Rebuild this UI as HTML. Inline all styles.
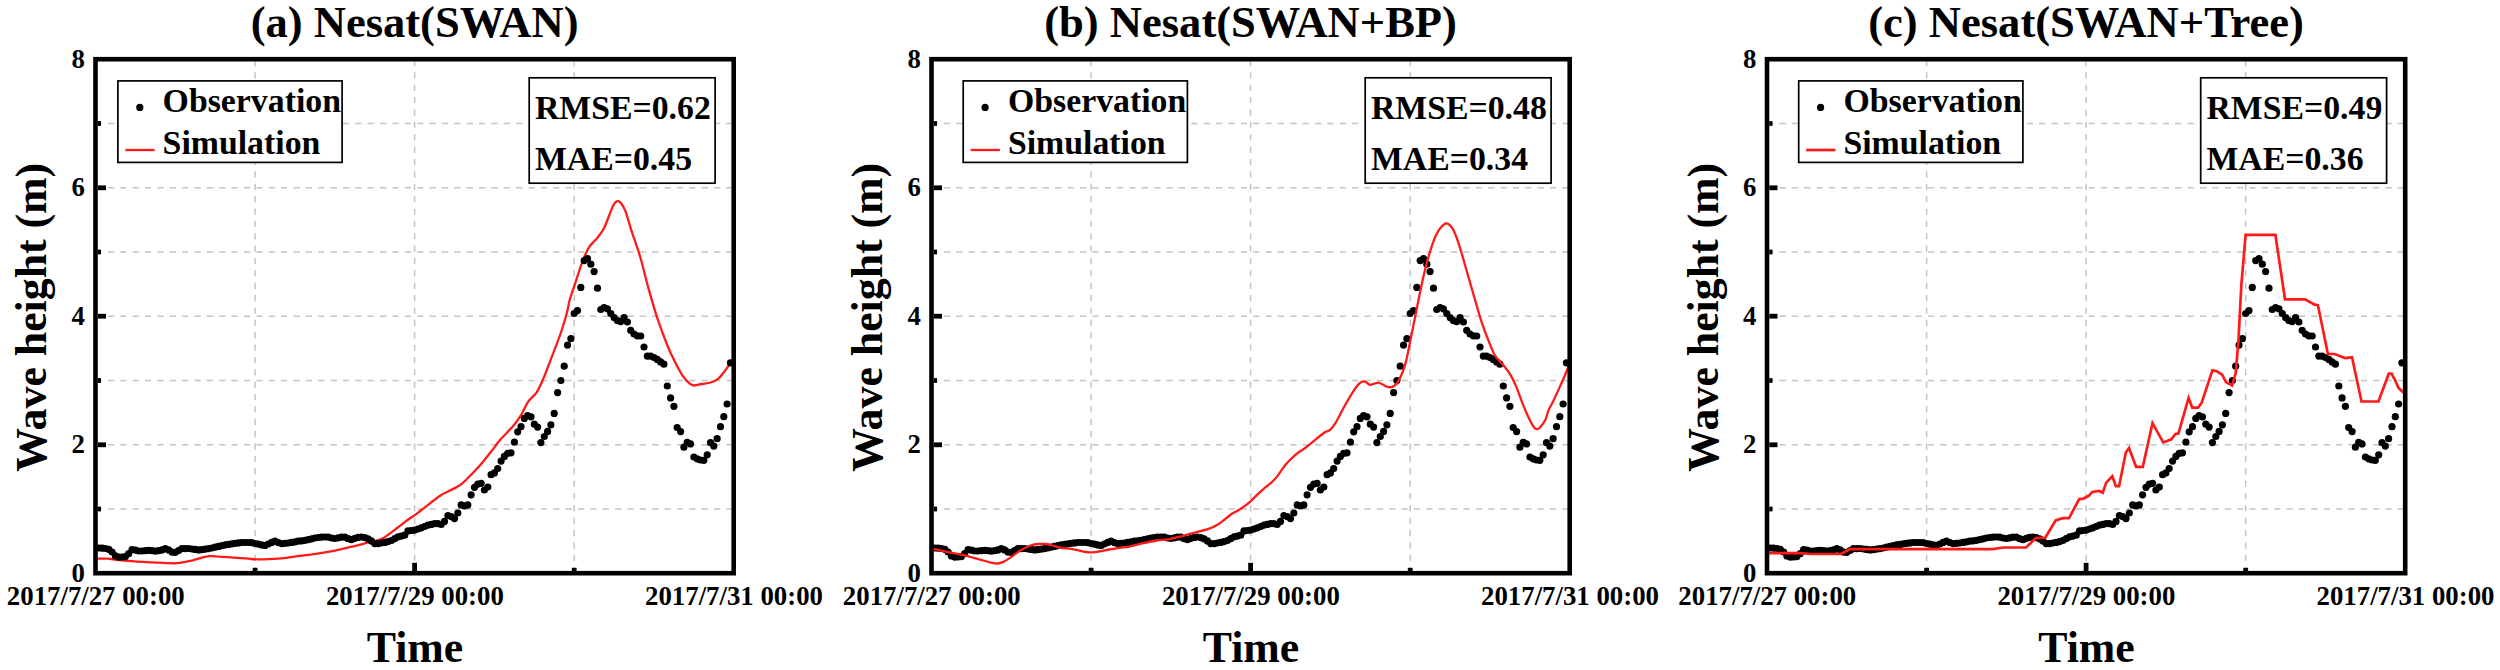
<!DOCTYPE html>
<html lang="en">
<head>
<meta charset="utf-8">
<title>Nesat wave height comparison</title>
<style>
html,body{margin:0;padding:0;background:#fff;}
body{width:2500px;height:670px;overflow:hidden;}
svg{display:block;}
text{font-family:"Liberation Serif",serif;font-weight:bold;fill:#000;}
.title{font-size:44.55px;text-anchor:middle;}
.axl{font-size:43.8px;text-anchor:middle;}
.tk{font-size:26.8px;}
.lg{font-size:33.8px;}
.st{font-size:33.75px;}
.grid line{stroke:#c4c4c4;stroke-width:1.5;stroke-dasharray:6.25 6.12;}
.ticks line{stroke:#000;stroke-width:4.8;}
.frame{fill:none;stroke:#000;stroke-width:4.6;}
.box{fill:#fff;stroke:#000;stroke-width:1.7;}
.sim{fill:none;stroke:#ff1a1a;stroke-width:2;stroke-linejoin:round;}
.obs circle{fill:#000;}
</style>
</head>
<body>
<svg width="2500" height="670" viewBox="0 0 2500 670">
<rect x="0" y="0" width="2500" height="670" fill="#ffffff"/>
<defs>
<clipPath id="plotclip"><rect x="95.5" y="59.2" width="638.2" height="514"/></clipPath>

<g id="grid" class="grid">
<line x1="255.1" y1="60" x2="255.1" y2="573.2"/>
<line x1="414.6" y1="60" x2="414.6" y2="573.2"/>
<line x1="574.2" y1="60" x2="574.2" y2="573.2"/>
<line x1="95.5" y1="509" x2="733.8" y2="509"/>
<line x1="95.5" y1="444.8" x2="733.8" y2="444.8"/>
<line x1="95.5" y1="380.5" x2="733.8" y2="380.5"/>
<line x1="95.5" y1="316.2" x2="733.8" y2="316.2"/>
<line x1="95.5" y1="252" x2="733.8" y2="252"/>
<line x1="95.5" y1="187.8" x2="733.8" y2="187.8"/>
<line x1="95.5" y1="123.5" x2="733.8" y2="123.5"/>
</g>
<g id="ticks" class="ticks">
<line x1="255.1" y1="571" x2="255.1" y2="567.8"/>
<line x1="414.6" y1="571" x2="414.6" y2="562.8"/>
<line x1="574.2" y1="571" x2="574.2" y2="567.8"/>
<line x1="97.8" y1="509" x2="101" y2="509"/>
<line x1="97.8" y1="444.8" x2="106" y2="444.8"/>
<line x1="97.8" y1="380.5" x2="101" y2="380.5"/>
<line x1="97.8" y1="316.2" x2="106" y2="316.2"/>
<line x1="97.8" y1="252" x2="101" y2="252"/>
<line x1="97.8" y1="187.8" x2="106" y2="187.8"/>
<line x1="97.8" y1="123.5" x2="101" y2="123.5"/>
</g>
<g id="obs" class="obs" clip-path="url(#plotclip)">
<circle cx="95.5" cy="547.9" r="3.6"/>
<circle cx="98.8" cy="548" r="3.6"/>
<circle cx="102.1" cy="548.2" r="3.6"/>
<circle cx="105.5" cy="548.5" r="3.6"/>
<circle cx="108.8" cy="549.3" r="3.6"/>
<circle cx="112.1" cy="552" r="3.6"/>
<circle cx="115.4" cy="555.9" r="3.6"/>
<circle cx="118.8" cy="557.1" r="3.6"/>
<circle cx="122.1" cy="557" r="3.6"/>
<circle cx="125.4" cy="556.6" r="3.6"/>
<circle cx="128.7" cy="553.7" r="3.6"/>
<circle cx="132.1" cy="549.6" r="3.6"/>
<circle cx="135.4" cy="550.1" r="3.6"/>
<circle cx="138.7" cy="551" r="3.6"/>
<circle cx="142" cy="551" r="3.6"/>
<circle cx="145.4" cy="550.6" r="3.6"/>
<circle cx="148.7" cy="550.3" r="3.6"/>
<circle cx="152" cy="550.7" r="3.6"/>
<circle cx="155.3" cy="551.2" r="3.6"/>
<circle cx="158.7" cy="550.7" r="3.6"/>
<circle cx="162" cy="549.9" r="3.6"/>
<circle cx="165.3" cy="548.6" r="3.6"/>
<circle cx="168.6" cy="549.9" r="3.6"/>
<circle cx="172" cy="552.1" r="3.6"/>
<circle cx="175.3" cy="552.3" r="3.6"/>
<circle cx="178.6" cy="550.5" r="3.6"/>
<circle cx="181.9" cy="548.7" r="3.6"/>
<circle cx="185.3" cy="548.6" r="3.6"/>
<circle cx="188.6" cy="548.5" r="3.6"/>
<circle cx="191.9" cy="549" r="3.6"/>
<circle cx="195.2" cy="549.4" r="3.6"/>
<circle cx="198.6" cy="549.9" r="3.6"/>
<circle cx="201.9" cy="549.6" r="3.6"/>
<circle cx="205.2" cy="549.1" r="3.6"/>
<circle cx="208.5" cy="548.6" r="3.6"/>
<circle cx="211.8" cy="548" r="3.6"/>
<circle cx="215.2" cy="547.2" r="3.6"/>
<circle cx="218.5" cy="546.4" r="3.6"/>
<circle cx="221.8" cy="545.7" r="3.6"/>
<circle cx="225.1" cy="544.9" r="3.6"/>
<circle cx="228.5" cy="544.4" r="3.6"/>
<circle cx="231.8" cy="543.8" r="3.6"/>
<circle cx="235.1" cy="543.3" r="3.6"/>
<circle cx="238.4" cy="542.9" r="3.6"/>
<circle cx="241.8" cy="542.5" r="3.6"/>
<circle cx="245.1" cy="542.5" r="3.6"/>
<circle cx="248.4" cy="542.5" r="3.6"/>
<circle cx="251.7" cy="542.7" r="3.6"/>
<circle cx="255.1" cy="543.5" r="3.6"/>
<circle cx="258.4" cy="544.2" r="3.6"/>
<circle cx="261.7" cy="544.9" r="3.6"/>
<circle cx="265" cy="545.4" r="3.6"/>
<circle cx="268.4" cy="544" r="3.6"/>
<circle cx="271.7" cy="542.4" r="3.6"/>
<circle cx="275" cy="541.2" r="3.6"/>
<circle cx="278.3" cy="542.6" r="3.6"/>
<circle cx="281.7" cy="543.6" r="3.6"/>
<circle cx="285" cy="543.3" r="3.6"/>
<circle cx="288.3" cy="543" r="3.6"/>
<circle cx="291.6" cy="542.4" r="3.6"/>
<circle cx="295" cy="541.8" r="3.6"/>
<circle cx="298.3" cy="541.2" r="3.6"/>
<circle cx="301.6" cy="540.8" r="3.6"/>
<circle cx="304.9" cy="540.3" r="3.6"/>
<circle cx="308.2" cy="539.7" r="3.6"/>
<circle cx="311.6" cy="538.8" r="3.6"/>
<circle cx="314.9" cy="538" r="3.6"/>
<circle cx="318.2" cy="537.5" r="3.6"/>
<circle cx="321.5" cy="537.1" r="3.6"/>
<circle cx="324.9" cy="537" r="3.6"/>
<circle cx="328.2" cy="537.1" r="3.6"/>
<circle cx="331.5" cy="538" r="3.6"/>
<circle cx="334.8" cy="538.5" r="3.6"/>
<circle cx="338.2" cy="537.8" r="3.6"/>
<circle cx="341.5" cy="537.1" r="3.6"/>
<circle cx="344.8" cy="537.2" r="3.6"/>
<circle cx="348.1" cy="538.7" r="3.6"/>
<circle cx="351.5" cy="539.7" r="3.6"/>
<circle cx="354.8" cy="538.3" r="3.6"/>
<circle cx="358.1" cy="537.4" r="3.6"/>
<circle cx="361.4" cy="537" r="3.6"/>
<circle cx="364.8" cy="537.6" r="3.6"/>
<circle cx="368.1" cy="538.8" r="3.6"/>
<circle cx="371.4" cy="540.9" r="3.6"/>
<circle cx="374.7" cy="543.6" r="3.6"/>
<circle cx="378.1" cy="543.6" r="3.6"/>
<circle cx="381.4" cy="543" r="3.6"/>
<circle cx="384.7" cy="542.4" r="3.6"/>
<circle cx="388" cy="541.6" r="3.6"/>
<circle cx="391.4" cy="540.5" r="3.6"/>
<circle cx="394.7" cy="538.7" r="3.6"/>
<circle cx="398" cy="536.8" r="3.6"/>
<circle cx="401.3" cy="536.1" r="3.6"/>
<circle cx="404.7" cy="535.2" r="3.6"/>
<circle cx="408" cy="530.9" r="3.6"/>
<circle cx="411.3" cy="530.5" r="3.6"/>
<circle cx="414.6" cy="530.1" r="3.6"/>
<circle cx="417.9" cy="529" r="3.6"/>
<circle cx="421.3" cy="527.8" r="3.6"/>
<circle cx="424.6" cy="526.5" r="3.6"/>
<circle cx="427.9" cy="525.2" r="3.6"/>
<circle cx="431.2" cy="524.4" r="3.6"/>
<circle cx="434.6" cy="523.6" r="3.6"/>
<circle cx="437.9" cy="523.6" r="3.6"/>
<circle cx="441.2" cy="524.5" r="3.6"/>
<circle cx="444.5" cy="521.4" r="3.6"/>
<circle cx="447.9" cy="515.5" r="3.6"/>
<circle cx="451.2" cy="516.6" r="3.6"/>
<circle cx="454.5" cy="518.6" r="3.6"/>
<circle cx="457.8" cy="513" r="3.6"/>
<circle cx="461.2" cy="504.9" r="3.6"/>
<circle cx="464.5" cy="505.9" r="3.6"/>
<circle cx="467.8" cy="504.9" r="3.6"/>
<circle cx="471.1" cy="494.8" r="3.6"/>
<circle cx="474.5" cy="487.3" r="3.6"/>
<circle cx="477.8" cy="484.1" r="3.6"/>
<circle cx="481.1" cy="483.3" r="3.6"/>
<circle cx="484.4" cy="490" r="3.6"/>
<circle cx="487.8" cy="487" r="3.6"/>
<circle cx="491.1" cy="474.7" r="3.6"/>
<circle cx="494.4" cy="472.9" r="3.6"/>
<circle cx="497.7" cy="468.5" r="3.6"/>
<circle cx="501.1" cy="461.1" r="3.6"/>
<circle cx="504.4" cy="456.4" r="3.6"/>
<circle cx="507.7" cy="453.3" r="3.6"/>
<circle cx="511" cy="452.8" r="3.6"/>
<circle cx="514.4" cy="442.2" r="3.6"/>
<circle cx="517.7" cy="431.8" r="3.6"/>
<circle cx="521" cy="426.7" r="3.6"/>
<circle cx="524.3" cy="418.4" r="3.6"/>
<circle cx="527.6" cy="415.7" r="3.6"/>
<circle cx="531" cy="416.8" r="3.6"/>
<circle cx="534.3" cy="424.2" r="3.6"/>
<circle cx="537.6" cy="427.1" r="3.6"/>
<circle cx="540.9" cy="442.6" r="3.6"/>
<circle cx="544.3" cy="436.5" r="3.6"/>
<circle cx="547.6" cy="431.4" r="3.6"/>
<circle cx="550.9" cy="424.8" r="3.6"/>
<circle cx="554.2" cy="413.4" r="3.6"/>
<circle cx="557.6" cy="392.6" r="3.6"/>
<circle cx="560.9" cy="380.5" r="3.6"/>
<circle cx="564.2" cy="366.2" r="3.6"/>
<circle cx="567.5" cy="345.1" r="3.6"/>
<circle cx="570.9" cy="338.7" r="3.6"/>
<circle cx="574.2" cy="313.5" r="3.6"/>
<circle cx="577.5" cy="310.6" r="3.6"/>
<circle cx="580.8" cy="287.4" r="3.6"/>
<circle cx="584.2" cy="260.6" r="3.6"/>
<circle cx="587.5" cy="258.6" r="3.6"/>
<circle cx="590.8" cy="264.2" r="3.6"/>
<circle cx="594.1" cy="271.6" r="3.6"/>
<circle cx="597.5" cy="288.2" r="3.6"/>
<circle cx="600.8" cy="309.5" r="3.6"/>
<circle cx="604.1" cy="307.5" r="3.6"/>
<circle cx="607.4" cy="308.8" r="3.6"/>
<circle cx="610.8" cy="313.5" r="3.6"/>
<circle cx="614.1" cy="317.6" r="3.6"/>
<circle cx="617.4" cy="320.6" r="3.6"/>
<circle cx="620.7" cy="321.6" r="3.6"/>
<circle cx="624.1" cy="317.6" r="3.6"/>
<circle cx="627.4" cy="322" r="3.6"/>
<circle cx="630.7" cy="330.3" r="3.6"/>
<circle cx="634" cy="334" r="3.6"/>
<circle cx="637.3" cy="335.8" r="3.6"/>
<circle cx="640.7" cy="336" r="3.6"/>
<circle cx="644" cy="347" r="3.6"/>
<circle cx="647.3" cy="356.1" r="3.6"/>
<circle cx="650.6" cy="356.1" r="3.6"/>
<circle cx="654" cy="357.5" r="3.6"/>
<circle cx="657.3" cy="359.4" r="3.6"/>
<circle cx="660.6" cy="361.9" r="3.6"/>
<circle cx="663.9" cy="364.2" r="3.6"/>
<circle cx="667.3" cy="386" r="3.6"/>
<circle cx="670.6" cy="397.9" r="3.6"/>
<circle cx="673.9" cy="406.3" r="3.6"/>
<circle cx="677.2" cy="427.5" r="3.6"/>
<circle cx="680.6" cy="431.6" r="3.6"/>
<circle cx="683.9" cy="447.2" r="3.6"/>
<circle cx="687.2" cy="442.4" r="3.6"/>
<circle cx="690.5" cy="443.9" r="3.6"/>
<circle cx="693.9" cy="457" r="3.6"/>
<circle cx="697.2" cy="458.8" r="3.6"/>
<circle cx="700.5" cy="460" r="3.6"/>
<circle cx="703.8" cy="460.3" r="3.6"/>
<circle cx="707.2" cy="454.8" r="3.6"/>
<circle cx="710.5" cy="442.7" r="3.6"/>
<circle cx="713.8" cy="446.1" r="3.6"/>
<circle cx="717.1" cy="438.7" r="3.6"/>
<circle cx="720.5" cy="426.7" r="3.6"/>
<circle cx="723.8" cy="416.7" r="3.6"/>
<circle cx="727.1" cy="404" r="3.6"/>
<circle cx="730.4" cy="362.8" r="3.6"/>
</g>
</defs>
<g transform="translate(0 0)">
<text class="title" x="414.6" y="37.3">(a) Nesat(SWAN)</text>
<use href="#grid"/>
<use href="#ticks"/>
<path class="sim" style="stroke-width:2.3;stroke-linejoin:round" clip-path="url(#plotclip)" d="M95.5 558.7C95.9 558.7 95.9 558.7 98 558.7C100.1 558.7 104.8 558.5 107.9 558.7C111.1 558.9 112.4 559.5 116.9 559.9C121.4 560.3 128.8 561 134.8 561.4C140.8 561.8 146.7 562 152.7 562.3C158.7 562.6 166.7 563.1 170.6 563.2C174.5 563.4 173.8 563.4 176 563.2C178.2 563 181.2 562.6 184 562.1C186.8 561.6 190 561 193 560.3C196 559.5 199.3 558.3 202 557.6C204.7 556.9 206.9 556.3 209.1 556.1C211.3 555.9 211.4 556 215.4 556.3C219.4 556.5 227.3 557.1 233.3 557.6C239.3 558.1 246.4 558.7 251.2 559C256 559.3 257.5 559.4 262 559.4C266.5 559.4 273.5 559 278 558.7C282.5 558.4 285.7 557.8 289 557.4C292.3 557 293.4 556.7 297.9 556.1C302.4 555.5 309.8 554.8 315.8 553.9C321.8 553 327.7 552 333.7 550.8C339.7 549.6 345.6 548.1 351.6 546.7C357.6 545.3 365.1 543.3 369.6 542.2C374.1 541.1 376.1 540.7 378.5 540C380.9 539.3 381.6 539.1 383.9 537.8C386.1 536.4 388.4 534.6 392 531.9C395.6 529.2 401.7 524.4 405.4 521.6C409.1 518.9 411.7 517.3 414.4 515.4C417.1 513.5 417.2 513.3 421.5 510C425.8 506.7 435.4 499 440 495.8C444.6 492.6 446 492.6 449.4 490.8C452.8 489 457.3 487 460.2 485C463.1 483 463.5 482.4 466.9 479C470.2 475.6 475.8 470 480.3 464.9C484.8 459.8 490.5 452.3 493.8 448.1C497.1 443.9 496.7 443.6 500 439.9C503.3 436.2 509.8 430.1 513.4 425.8C517 421.6 519 418.4 521.5 414.4C524 410.4 525.7 405.2 528.2 401.6C530.7 398 533.9 396.3 536.3 392.8C538.7 389.3 540.5 385 542.5 380.6C544.5 376.2 545.1 374.5 548.1 366.6C551.1 358.7 557.7 342 560.8 333C563.9 324 565.4 318.3 566.9 312.8C568.4 307.3 568.4 304.6 569.7 300C571 295.4 572.4 291.8 574.6 285.2C576.8 278.6 580.3 267 582.8 260.6C585.3 254.2 586.9 250.5 589.4 246.7C591.9 242.9 595.1 240.8 597.6 237.6C600.1 234.4 601.6 233.1 604.2 227.8C606.8 222.5 611 210 613.2 205.6C615.4 201.2 616 201.6 617.3 201.2C618.6 200.8 619.5 201.4 620.9 203.1C622.3 204.8 623.6 206.4 625.5 211.3C627.4 216.2 629.6 225 632.1 232.7C634.6 240.4 637.6 248 640.3 257.3C643 266.6 645.7 278.6 648.5 288.5C651.3 298.4 653.8 307.4 656.9 316.9C660 326.3 664.3 337.8 667.3 345.2C670.3 352.6 672.3 356.6 674.8 361.6C677.3 366.6 679.7 371.4 682.2 375.1C684.7 378.8 687.7 382 689.7 383.7C691.7 385.4 692.2 385.4 694.2 385.5C696.2 385.6 698.9 384.5 701.6 384C704.3 383.5 707.9 383.4 710.6 382.5C713.4 381.6 715.9 380.5 718.1 378.8C720.3 377.1 722.1 374.5 724 372.1C725.9 369.7 727.7 366.9 729.3 364.6C730.9 362.3 733 359.5 733.8 358.5"/>
<use href="#obs"/>
<rect class="frame" x="95.5" y="59.2" width="638.2" height="514"/>
<rect class="box" x="117.9" y="80.9" width="224.2" height="81.5"/>
<circle cx="139.8" cy="107.4" r="3.6" fill="#000"/>
<line x1="125.4" y1="150" x2="154.6" y2="150" stroke="#ff1a1a" stroke-width="2.3"/>
<text class="lg" x="162.6" y="111.6">Observation</text>
<text class="lg" x="162.6" y="154">Simulation</text>
<rect class="box" x="529.2" y="77.8" width="185.9" height="105.4"/>
<text class="st" x="535" y="119.1">RMSE=0.62</text>
<text class="st" x="535" y="170.1">MAE=0.45</text>
<text class="tk" text-anchor="end" x="85" y="582">0</text>
<text class="tk" text-anchor="end" x="85" y="453.4">2</text>
<text class="tk" text-anchor="end" x="85" y="324.9">4</text>
<text class="tk" text-anchor="end" x="85" y="196.4">6</text>
<text class="tk" text-anchor="end" x="85" y="68">8</text>
<text class="tk" text-anchor="middle" x="95.8" y="605.2">2017/7/27 00:00</text>
<text class="tk" text-anchor="middle" x="414.9" y="605.2">2017/7/29 00:00</text>
<text class="tk" text-anchor="middle" x="734" y="605.2">2017/7/31 00:00</text>
<text class="axl" x="415" y="661.5">Time</text>
<text class="axl" transform="translate(46.2 317.3) rotate(-90)" x="0" y="0">Wave height (m)</text>
</g>
<g transform="translate(836 0)">
<text class="title" x="414.6" y="37.3">(b) Nesat(SWAN+BP)</text>
<use href="#grid"/>
<use href="#ticks"/>
<use href="#obs"/>
<path class="sim" style="stroke-width:2.3;stroke-linejoin:round" clip-path="url(#plotclip)" d="M95.5 548.7C96 548.8 95.8 548.7 98.4 549.2C101 549.7 106.2 550.8 110.9 551.8C115.6 552.8 121.4 553.7 126.6 554.9C131.8 556.1 137.5 557.8 142.2 559.1C146.9 560.4 151.6 561.9 154.8 562.6C158 563.3 159.5 563.6 161.6 563.5C163.7 563.4 165.3 562.8 167.3 561.9C169.3 561 170.8 560 173.6 558.1C176.4 556.2 180.5 552.9 184 550.8C187.5 548.7 191.3 546.6 194.5 545.5C197.7 544.4 200.3 544.2 202.9 544C205.5 543.8 207.6 543.6 210.2 544C212.8 544.4 215.9 545.4 218.5 546.1C221.1 546.8 223.4 547.7 225.8 548.1C228.2 548.5 230.6 548.4 233.2 548.7C235.8 549.1 238.7 549.7 241.5 550.2C244.3 550.8 247.6 551.6 249.9 552C252.2 552.4 253 552.4 255.1 552.3C257.2 552.2 259.4 552.1 262.4 551.6C265.4 551.1 269.4 550.1 272.9 549.5C276.4 548.9 279.9 548.3 283.3 547.8C286.7 547.3 289.5 547.4 293.4 546.6C297.3 545.8 302.4 544.2 306.9 543.2C311.4 542.2 315.8 541.2 320.3 540.5C324.8 539.8 329.2 540 333.7 539.2C338.2 538.4 342.7 537 347.2 535.8C351.7 534.6 356.1 533.3 360.6 532.1C365.1 530.9 370.4 529.7 374 528.4C377.6 527.1 379.9 525.7 382.1 524.4C384.4 523.1 385.5 522 387.5 520.4C389.5 518.8 392 516.6 394.2 515C396.4 513.4 398.7 512.4 400.9 511C403.1 509.6 405.4 508.5 407.6 506.9C409.8 505.3 412.1 503.6 414.3 501.6C416.5 499.6 418.8 496.9 421 494.8C423.2 492.7 425.4 490.7 427.7 488.8C429.9 486.9 432.2 485.5 434.5 483.4C436.8 481.3 438.7 479.5 441.2 476.4C443.7 473.2 446.7 468.1 449.7 464.5C452.7 460.9 456.2 457.6 459.4 454.8C462.6 452.1 465.9 450.4 469.1 448C472.3 445.6 475.6 442.8 478.8 440.2C482 437.6 485.9 434.3 488.5 432.5C491.1 430.7 492.4 431.4 494.3 429.6C496.2 427.8 497.9 425.5 500.2 421.8C502.5 418.1 505 412.4 507.9 407.2C510.8 402 515 394.8 517.6 390.8C520.2 386.8 521.8 385 523.4 383.4C525 381.8 526 381.5 527.3 381.4C528.6 381.3 530.1 382.4 531.2 383C532.3 383.6 532.8 384.8 534.1 384.9C535.4 385 537.5 383.8 539 383.4C540.5 383 541.6 382.4 542.9 382.6C544.2 382.8 545.2 383.8 546.7 384.5C548.2 385.2 550 386.5 551.6 386.9C553.2 387.3 554.8 387.5 556.4 386.9C558 386.2 559.7 385.3 561.3 383C562.9 380.7 564.6 376.9 566.1 373.3C567.6 369.7 568.6 367 570 361.6C571.4 356.2 572.8 348.2 574.3 340.8C575.8 333.4 577.5 324.9 579.1 317C580.7 309.1 582.3 300.7 583.9 293.1C585.5 285.5 587 278.2 588.6 271.6C590.2 265 591.8 259.1 593.4 253.7C595 248.3 596.6 243.4 598.2 239.4C599.8 235.4 601.4 232.3 603 229.8C604.6 227.3 606.4 225.7 607.7 224.6C609 223.5 609.6 223.3 610.6 223.4C611.6 223.5 612.6 224 613.7 225.1C614.8 226.2 615.9 227 617.3 229.8C618.7 232.6 620.5 237.2 622.1 241.8C623.7 246.4 625.2 251.9 626.8 257.3C628.4 262.7 630 268.4 631.6 274C633.2 279.6 634.8 285.1 636.4 290.7C638 296.3 639.6 302 641.2 307.4C642.8 312.8 644.3 318.1 645.9 322.9C647.5 327.7 649.1 331.9 650.7 336.1C652.3 340.3 654.1 344.7 655.5 348C656.9 351.3 657.3 353.2 659.3 356.1C661.3 359 665.2 362.5 667.6 365.5C670 368.5 671.8 370.4 673.9 373.9C676 377.4 678 381.5 680.1 386.4C682.2 391.3 684.3 397.9 686.4 403.1C688.5 408.3 690.8 413.8 692.7 417.8C694.6 421.8 696.5 425.3 697.9 427.2C699.3 429.1 700 429.2 701 429.2C702 429.2 702.8 428.8 704.2 427.2C705.6 425.6 708 422.6 709.4 419.8C710.8 417 711.1 413.7 712.5 410.4C713.9 407.1 715.9 404 717.8 400C719.7 396 722.3 390.2 724 386.4C725.7 382.6 726.6 380.8 728.2 377C729.8 373.2 732.8 365.8 733.8 363.5"/>
<rect class="frame" x="95.5" y="59.2" width="638.2" height="514"/>
<rect class="box" x="127.2" y="80.9" width="224.2" height="81.5"/>
<circle cx="149.1" cy="107.4" r="3.6" fill="#000"/>
<line x1="134.7" y1="150" x2="163.9" y2="150" stroke="#ff1a1a" stroke-width="2.3"/>
<text class="lg" x="171.9" y="111.6">Observation</text>
<text class="lg" x="171.9" y="154">Simulation</text>
<rect class="box" x="529.2" y="77.8" width="185.9" height="105.4"/>
<text class="st" x="535" y="119.1">RMSE=0.48</text>
<text class="st" x="535" y="170.1">MAE=0.34</text>
<text class="tk" text-anchor="end" x="85" y="582">0</text>
<text class="tk" text-anchor="end" x="85" y="453.4">2</text>
<text class="tk" text-anchor="end" x="85" y="324.9">4</text>
<text class="tk" text-anchor="end" x="85" y="196.4">6</text>
<text class="tk" text-anchor="end" x="85" y="68">8</text>
<text class="tk" text-anchor="middle" x="95.8" y="605.2">2017/7/27 00:00</text>
<text class="tk" text-anchor="middle" x="414.9" y="605.2">2017/7/29 00:00</text>
<text class="tk" text-anchor="middle" x="734" y="605.2">2017/7/31 00:00</text>
<text class="axl" x="415" y="661.5">Time</text>
<text class="axl" transform="translate(46.2 317.3) rotate(-90)" x="0" y="0">Wave height (m)</text>
</g>
<g transform="translate(1671.5 0)">
<text class="title" x="414.6" y="37.3">(c) Nesat(SWAN+Tree)</text>
<use href="#grid"/>
<use href="#ticks"/>
<use href="#obs"/>
<path class="sim" style="stroke-width:2.7;stroke-linejoin:miter" clip-path="url(#plotclip)" d="M95.5 553.1L128.9 553.1L139.6 554L169.5 554L178.4 549.2L321.1 549.2L331.9 547.5L354.6 547.5L364.4 538.1L373.9 537.5L384.1 520.5L391.3 518.2L397.5 518.2L407.7 499.1L411.8 498.7L417.2 495.8L420.8 491.9L427.6 491L431.2 492.8L434.7 482.6L440.8 476.3L444.4 486.2L447.6 486.2L454.3 452.5L457.5 448.1L464.6 466.8L471.3 466.8L481 423.2L491.7 442.4L499.8 439.3L503.9 434L506.9 433.6L517.1 397.8L520.7 407.7L526.6 407.7L530.2 402.6L540.9 370.4L545.4 371.3L550.8 374.9L554.4 382.1L560.6 385.6L564.2 373.1L567 340L569.8 285.5L574.1 234.9L603.9 234.9L613.5 299.3L633.5 299.3L643.1 304.6L646.4 305.1L656.4 354L663.2 354L673.4 358L680.5 357.3L690 401.5L706.9 401.5L717.3 373.7L720 373.7L723.5 380L727.1 388.1L733.8 394"/>
<rect class="frame" x="95.5" y="59.2" width="638.2" height="514"/>
<rect class="box" x="127.2" y="80.9" width="224.2" height="81.5"/>
<circle cx="149.1" cy="107.4" r="3.6" fill="#000"/>
<line x1="134.7" y1="150" x2="163.9" y2="150" stroke="#ff1a1a" stroke-width="2.7"/>
<text class="lg" x="171.9" y="111.6">Observation</text>
<text class="lg" x="171.9" y="154">Simulation</text>
<rect class="box" x="529.2" y="77.8" width="185.9" height="105.4"/>
<text class="st" x="535" y="119.1">RMSE=0.49</text>
<text class="st" x="535" y="170.1">MAE=0.36</text>
<text class="tk" text-anchor="end" x="85" y="582">0</text>
<text class="tk" text-anchor="end" x="85" y="453.4">2</text>
<text class="tk" text-anchor="end" x="85" y="324.9">4</text>
<text class="tk" text-anchor="end" x="85" y="196.4">6</text>
<text class="tk" text-anchor="end" x="85" y="68">8</text>
<text class="tk" text-anchor="middle" x="95.8" y="605.2">2017/7/27 00:00</text>
<text class="tk" text-anchor="middle" x="414.9" y="605.2">2017/7/29 00:00</text>
<text class="tk" text-anchor="middle" x="734" y="605.2">2017/7/31 00:00</text>
<text class="axl" x="415" y="661.5">Time</text>
<text class="axl" transform="translate(46.2 317.3) rotate(-90)" x="0" y="0">Wave height (m)</text>
</g>
</svg>
</body>
</html>
